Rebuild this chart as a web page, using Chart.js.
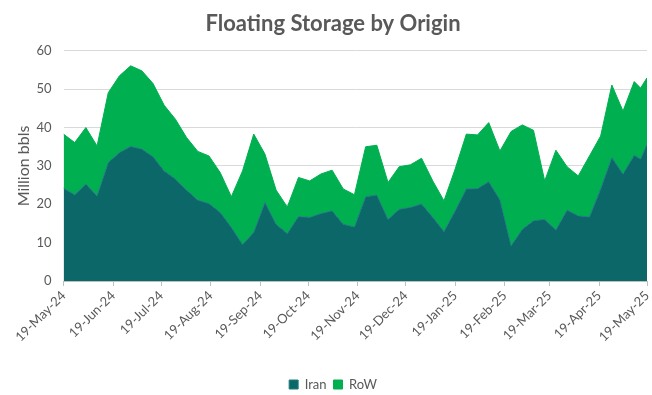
<!DOCTYPE html>
<html>
<head>
<meta charset="utf-8">
<script src="https://cdn.jsdelivr.net/npm/chart.js@4"></script>
<style>
  html, body { margin: 0; padding: 0; background: #fff; }
  #wrap { width: 652px; height: 395px; }
</style>
</head>
<body>
<div id="wrap"><canvas id="chart"></canvas></div>
<script>
// days since 19-May-24 (weekly, last two points closer together)
const days = [0, 7, 14, 21, 28, 35, 42, 49, 56, 63, 70, 77, 84, 91, 98, 105, 112, 119,
  126, 133, 140, 147, 154, 161, 168, 175, 182, 189, 196, 203, 210, 217, 224, 231, 238,
  245, 252, 259, 266, 273, 280, 287, 294, 301, 308, 315, 322, 329, 336, 343, 350, 357, 361, 365];

const iran = [24.2, 22.5, 25.3, 22.2, 30.9, 33.5, 35.1, 34.4, 32.4, 28.7, 26.6, 23.7, 21.1, 20.2,
  17.9, 14.0, 9.5, 12.7, 20.5, 14.8, 12.4, 16.8, 16.6, 17.6, 18.3, 14.8, 14.1, 22.0, 22.4,
  16.1, 18.7, 19.2, 20.1, 16.6, 12.9, 18.3, 24.0, 24.1, 25.9, 21.2, 9.2, 13.5, 15.7, 16.1,
  13.3, 18.5, 17.0, 16.7, 24.0, 32.2, 27.9, 32.8, 31.8, 35.7];

const row = [14.1, 13.6, 14.7, 13.0, 18.2, 20.0, 21.0, 20.4, 19.1, 17.1, 15.6, 13.7, 12.7, 12.4,
  10.4, 8.0, 19.2, 25.6, 12.6, 8.9, 6.9, 10.2, 9.5, 10.3, 10.6, 9.2, 8.4, 13.0, 13.0,
  9.6, 11.1, 11.1, 11.9, 9.5, 8.0, 10.9, 14.3, 14.0, 15.4, 12.7, 29.8, 27.2, 23.6, 10.0,
  20.8, 11.3, 10.4, 15.9, 13.8, 18.9, 16.4, 19.2, 18.5, 17.3];

const tickDays = [0, 31, 61, 92, 123, 153, 184, 214, 245, 276, 304, 335, 365];
const tickLabels = ["19-May-24", "19-Jun-24", "19-Jul-24", "19-Aug-24", "19-Sep-24", "19-Oct-24",
  "19-Nov-24", "19-Dec-24", "19-Jan-25", "19-Feb-25", "19-Mar-25", "19-Apr-25", "19-May-25"];

const grey = "#595959";
const font = "Lato, 'Open Sans', sans-serif";
const leftPad = 14;

const ctx = document.getElementById("chart").getContext("2d");

new Chart(ctx, {
  type: "line",
  data: {
    datasets: [{
      label: "Iran",
      data: days.map((d, i) => ({ x: d, y: iran[i] })),
      backgroundColor: "#0C6769",
      borderColor: "#1E7E7E",
      borderWidth: 1,
      fill: "origin",
      pointRadius: 0,
      tension: 0
    }, {
      label: "RoW",
      data: days.map((d, i) => ({ x: d, y: row[i] })),
      backgroundColor: "#00B050",
      borderColor: "#00B050",
      borderWidth: 1,
      fill: "-1",
      pointRadius: 0,
      tension: 0
    }]
  },
  options: {
    responsive: true,
    maintainAspectRatio: false,
    animation: false,
    layout: { padding: { left: leftPad, right: 0, top: 0, bottom: -6 } },
    plugins: {
      title: {
        display: true,
        text: "Floating Storage by Origin",
        color: grey,
        font: { family: font, size: 22, weight: "bold" },
        padding: { top: 11, bottom: 13.5 }
      },
      legend: {
        position: "bottom",
        labels: {
          color: grey,
          font: { family: font, size: 13 },
          boxWidth: 9,
          boxHeight: 9,
          padding: 7
        }
      },
      tooltip: { enabled: false }
    },
    scales: {
      x: {
        type: "linear",
        min: 0,
        max: 365,
        afterBuildTicks: scale => {
          scale.ticks = tickDays.map(v => ({ value: v }));
        },
        afterFit: scale => {
          scale.height = 90;
          scale.paddingRight = 5;
          scale.paddingLeft = 0;
        },
        ticks: {
          color: grey,
          font: { family: font, size: 13 },
          minRotation: 45,
          maxRotation: 45,
          autoSkip: false,
          padding: 2,
          callback: (v) => tickLabels[tickDays.indexOf(v)]
        },
        grid: { drawOnChartArea: false, drawTicks: true, tickLength: 5, color: "#BFBFBF" },
        border: { color: "#BFBFBF" }
      },
      y: {
        stacked: true,
        min: 0,
        max: 60,
        afterFit: scale => { scale.width = 63.5 - leftPad; },
        ticks: {
          stepSize: 10,
          color: grey,
          font: { family: font, size: 13 },
          padding: 12
        },
        title: {
          display: true,
          text: "Million bbls",
          color: grey,
          font: { family: font, size: 16 },
          padding: { top: 0, bottom: 0 }
        },
        grid: { color: "#D9D9D9", drawTicks: false },
        border: { display: false }
      }
    }
  }
});
</script>
</body>
</html>
